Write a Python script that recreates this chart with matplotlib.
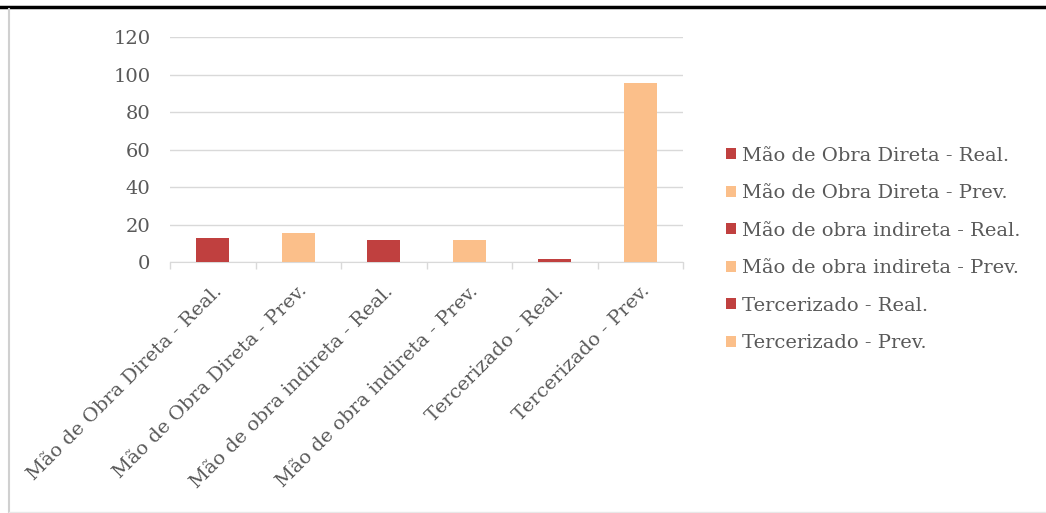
import numpy as np
import matplotlib
matplotlib.use('Agg')
import matplotlib.pyplot as plt
from matplotlib.lines import Line2D
from matplotlib.patches import Patch

plt.rcParams['font.family'] = ['DejaVu Serif']

categories = ['Mão de Obra Direta - Real.', 'Mão de Obra Direta - Prev.',
              'Mão de obra indireta - Real.', 'Mão de obra indireta - Prev.',
              'Tercerizado - Real.', 'Tercerizado - Prev.']
values = [13, 15.5, 12, 11.7, 1.5, 95.5]
yticks = [0, 20, 40, 60, 80, 100, 120]

red = '#C0403F'
peach = '#FBBF8A'
colors = [red, peach, red, peach, red, peach]
textcol = '#595959'
gridcol = '#D9D9D9'

fig = plt.figure(figsize=(10.46, 5.13), dpi=100)
ax = fig.add_axes([170/1046, 1-262.3/513, (683-170)/1046, (262.3-37.3)/513])

x = np.arange(len(categories))
ax.bar(x, values, width=0.39, color=colors, zorder=3)

ax.set_ylim(0, 120)
ax.set_xlim(-0.5, len(categories)-0.5)
ax.set_yticks(yticks)
ax.set_yticklabels([str(v) for v in yticks], fontsize=14, color=textcol)
ax.yaxis.grid(True, color=gridcol, linewidth=1, zorder=0)
ax.tick_params(axis='y', length=0, pad=14)

ax.set_xticks(x)
ax.set_xticklabels(categories, rotation=45, ha='right', rotation_mode='anchor',
                   fontsize=14, color=textcol)
ax.set_xticks(np.arange(len(categories)+1)-0.5, minor=True)
ax.tick_params(axis='x', which='major', length=0, pad=14)
ax.tick_params(axis='x', which='minor', length=5, color=gridcol, width=1)

for s in ['top', 'right', 'left']:
    ax.spines[s].set_visible(False)
ax.spines['bottom'].set_color(gridcol)

handles = [Patch(facecolor=c, edgecolor='none') for c in colors]
leg = fig.legend(handles, categories, loc='upper left', bbox_to_anchor=(718/1046, 1-139/513),
                 frameon=False, fontsize=14, handlelength=0.5, handleheight=0.5,
                 handletextpad=0.35, labelspacing=1.0, borderaxespad=0)
for t in leg.get_texts():
    t.set_color(textcol)

# moldura
fig.add_artist(Line2D([0, 1], [1-7/513, 1-7/513], color='black', linewidth=2.5))
fig.add_artist(Line2D([9/1046, 9/1046], [0, 1-9/513], color='#D0D0D0', linewidth=1.5))
fig.add_artist(Line2D([9/1046, 1], [1.5/513, 1.5/513], color='#E8E8E8', linewidth=1))

fig.savefig('out.png', dpi=100)
